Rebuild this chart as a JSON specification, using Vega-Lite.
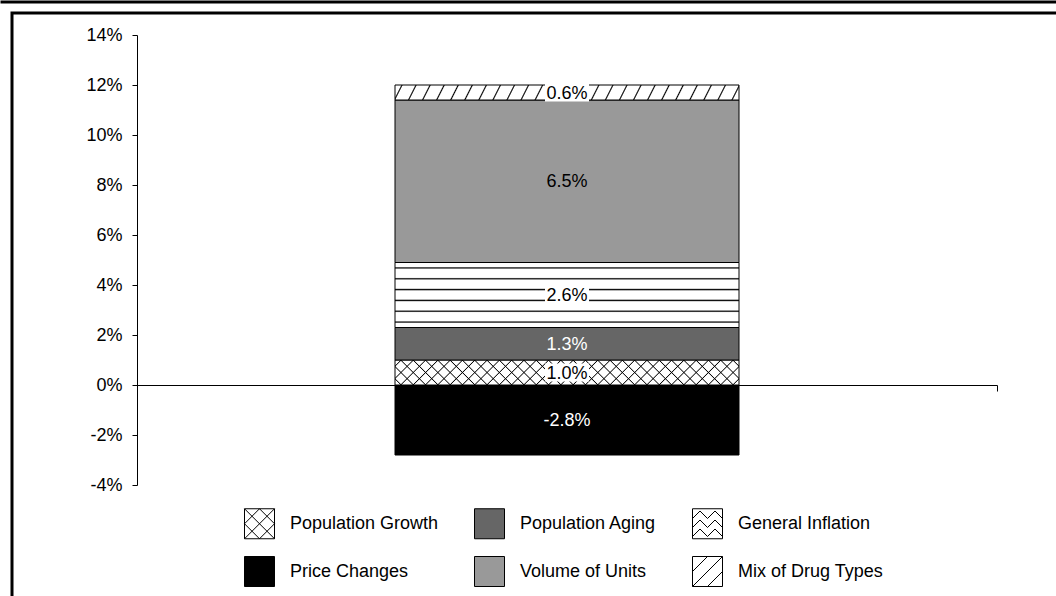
{
  "$schema": "https://vega.github.io/schema/vega-lite/v6.json",
  "width": 1044,
  "height": 583,
  "autosize": {"type": "none"},
  "padding": {"left": 12, "top": 13, "right": 0, "bottom": 0},
  "background": "white",
  "config": {
    "font": "Liberation Sans",
    "view": {"stroke": "black", "strokeWidth": 3, "strokeDash": [1044, 1627, 583]},
    "axis": {"grid": false, "domainColor": "black", "tickColor": "black", "labelColor": "black", "labelFont": "Liberation Sans", "labelFontSize": 18},
    "locale": {"number": {"decimal": ".", "thousands": ",", "grouping": [3], "currency": ["$", ""], "minus": "-"}}
  },
  "data": {"values": [
    {"g": "A", "cat": "Price Changes", "value": -0.028, "k": 0},
    {"g": "A", "cat": "Population Growth", "value": 0.010, "k": 1},
    {"g": "A", "cat": "Population Aging", "value": 0.013, "k": 2},
    {"g": "A", "cat": "General Inflation", "value": 0.026, "k": 3},
    {"g": "A", "cat": "Volume of Units", "value": 0.065, "k": 4},
    {"g": "A", "cat": "Mix of Drug Types", "value": 0.006, "k": 5}
  ]},
  "transform": [
    {"stack": "value", "groupby": [], "sort": [{"field": "k", "order": "ascending"}], "as": ["y0", "y1"], "offset": "zero"},
    {"calculate": "(datum.y0 + datum.y1) / 2", "as": "ym"}
  ],
  "layer": [
    {
      "layer": [
        {
          "mark": {"type": "bar", "width": {"band": 0.4}, "stroke": "black", "strokeWidth": 1},
          "encoding": {
            "x": {"field": "g", "type": "nominal", "scale": {"range": [125, 985], "paddingInner": 0, "paddingOuter": 0},
                  "axis": {"orient": "bottom", "offset": -211, "labels": false, "title": null, "tickBand": "extent", "tickSize": 6, "domainWidth": 1}},
            "y": {"field": "y0", "type": "quantitative", "scale": {"domain": [-0.04, 0.14], "range": [472, 22], "nice": false, "zero": false},
                  "axis": {"orient": "left", "offset": -125, "values": [-0.04, -0.02, 0, 0.02, 0.04, 0.06, 0.08, 0.1, 0.12, 0.14], "format": ".0%", "tickSize": 5, "labelPadding": 10, "title": null, "domainWidth": 1}},
            "y2": {"field": "y1"},
            "color": {"field": "cat", "type": "nominal",
              "scale": {"domain": ["Population Growth", "Population Aging", "General Inflation", "Price Changes", "Volume of Units", "Mix of Drug Types"],
                        "range": ["#ffffff", "#666666", "#ffffff", "#000000", "#999999", "#ffffff"]},
              "legend": {"orient": "none", "legendX": 232, "legendY": 495, "direction": "horizontal", "columns": 3, "title": null,
                "symbolSize": 900, "symbolType": "square", "symbolStrokeWidth": 1, "symbolStrokeColor": "black", "symbolOpacity": 1,
                "labelFontSize": 18, "labelFont": "Liberation Sans", "labelColor": "black", "labelOffset": 15, "labelLimit": 400,
                "columnPadding": 33, "rowPadding": 13, "padding": 0,
                "encode": {"symbols": {"update": {
                  "stroke": {"value": "black"}, "strokeWidth": {"value": 1}, "opacity": {"value": 1},
                  "shape": {"signal": "datum.value === 'Population Growth' ? 'M-1,-1H1V1H-1Z M-1,-1L1,1 M-1,0L0,1 M0,-1L1,0 M-1,1L1,-1 M-1,0L0,-1 M0,1L1,0' : datum.value === 'General Inflation' ? 'M-1,-1H1V1H-1Z M-1,-0.35L-0.5,-0.85L0,-0.35L0.5,-0.85L1,-0.35 M-1,0.25L-0.5,-0.25L0,0.25L0.5,-0.25L1,0.25 M-1,0.85L-0.5,0.35L0,0.85L0.5,0.35L1,0.85' : datum.value === 'Mix of Drug Types' ? 'M-1,-1H1V1H-1Z M-1,0L0,-1 M-1,1L1,-1 M0,1L1,0' : 'square'"}
                }}}
              }}
          }
        },
        {
          "transform": [{"filter": "datum.cat === 'Mix of Drug Types'"}],
          "mark": {"type": "bar", "width": {"band": 0.4}, "strokeWidth": 0,
            "fill": {"gradient": "linear", "x1": 0, "y1": 0, "x2": 1.0215, "y2": 0.0225, "stops": [
              {"offset": 0, "color": "#0000"},
              {"offset": 0.0165, "color": "#0000"}, {"offset": 0.02, "color": "#000"}, {"offset": 0.0235, "color": "#0000"},
              {"offset": 0.0565, "color": "#0000"}, {"offset": 0.06, "color": "#000"}, {"offset": 0.0635, "color": "#0000"},
              {"offset": 0.0965, "color": "#0000"}, {"offset": 0.10, "color": "#000"}, {"offset": 0.1035, "color": "#0000"},
              {"offset": 0.1365, "color": "#0000"}, {"offset": 0.14, "color": "#000"}, {"offset": 0.1435, "color": "#0000"},
              {"offset": 0.1765, "color": "#0000"}, {"offset": 0.18, "color": "#000"}, {"offset": 0.1835, "color": "#0000"},
              {"offset": 0.2165, "color": "#0000"}, {"offset": 0.22, "color": "#000"}, {"offset": 0.2235, "color": "#0000"},
              {"offset": 0.2565, "color": "#0000"}, {"offset": 0.26, "color": "#000"}, {"offset": 0.2635, "color": "#0000"},
              {"offset": 0.2965, "color": "#0000"}, {"offset": 0.30, "color": "#000"}, {"offset": 0.3035, "color": "#0000"},
              {"offset": 0.3365, "color": "#0000"}, {"offset": 0.34, "color": "#000"}, {"offset": 0.3435, "color": "#0000"},
              {"offset": 0.3765, "color": "#0000"}, {"offset": 0.38, "color": "#000"}, {"offset": 0.3835, "color": "#0000"},
              {"offset": 0.4165, "color": "#0000"}, {"offset": 0.42, "color": "#000"}, {"offset": 0.4235, "color": "#0000"},
              {"offset": 0.4565, "color": "#0000"}, {"offset": 0.46, "color": "#000"}, {"offset": 0.4635, "color": "#0000"},
              {"offset": 0.4965, "color": "#0000"}, {"offset": 0.50, "color": "#000"}, {"offset": 0.5035, "color": "#0000"},
              {"offset": 0.5365, "color": "#0000"}, {"offset": 0.54, "color": "#000"}, {"offset": 0.5435, "color": "#0000"},
              {"offset": 0.5765, "color": "#0000"}, {"offset": 0.58, "color": "#000"}, {"offset": 0.5835, "color": "#0000"},
              {"offset": 0.6165, "color": "#0000"}, {"offset": 0.62, "color": "#000"}, {"offset": 0.6235, "color": "#0000"},
              {"offset": 0.6565, "color": "#0000"}, {"offset": 0.66, "color": "#000"}, {"offset": 0.6635, "color": "#0000"},
              {"offset": 0.6965, "color": "#0000"}, {"offset": 0.70, "color": "#000"}, {"offset": 0.7035, "color": "#0000"},
              {"offset": 0.7365, "color": "#0000"}, {"offset": 0.74, "color": "#000"}, {"offset": 0.7435, "color": "#0000"},
              {"offset": 0.7765, "color": "#0000"}, {"offset": 0.78, "color": "#000"}, {"offset": 0.7835, "color": "#0000"},
              {"offset": 0.8165, "color": "#0000"}, {"offset": 0.82, "color": "#000"}, {"offset": 0.8235, "color": "#0000"},
              {"offset": 0.8565, "color": "#0000"}, {"offset": 0.86, "color": "#000"}, {"offset": 0.8635, "color": "#0000"},
              {"offset": 0.8965, "color": "#0000"}, {"offset": 0.90, "color": "#000"}, {"offset": 0.9035, "color": "#0000"},
              {"offset": 0.9365, "color": "#0000"}, {"offset": 0.94, "color": "#000"}, {"offset": 0.9435, "color": "#0000"},
              {"offset": 0.9765, "color": "#0000"}, {"offset": 0.98, "color": "#000"}, {"offset": 0.9835, "color": "#0000"},
              {"offset": 1, "color": "#0000"}
            ]}},
          "encoding": {"x": {"field": "g", "type": "nominal"}, "y": {"field": "y0", "type": "quantitative"}, "y2": {"field": "y1"}}
        },
        {
          "transform": [{"filter": "datum.cat === 'General Inflation'"}],
          "mark": {"type": "bar", "width": {"band": 0.4}, "strokeWidth": 0,
            "fill": {"gradient": "linear", "x1": 0, "y1": 0, "x2": 0, "y2": 1, "stops": [
              {"offset": 0, "color": "#0000"},
              {"offset": 0.0633, "color": "#0000"}, {"offset": 0.0833, "color": "#000"}, {"offset": 0.1033, "color": "#0000"},
              {"offset": 0.23, "color": "#0000"}, {"offset": 0.25, "color": "#000"}, {"offset": 0.27, "color": "#0000"},
              {"offset": 0.3967, "color": "#0000"}, {"offset": 0.4167, "color": "#000"}, {"offset": 0.4367, "color": "#0000"},
              {"offset": 0.5633, "color": "#0000"}, {"offset": 0.5833, "color": "#000"}, {"offset": 0.6033, "color": "#0000"},
              {"offset": 0.73, "color": "#0000"}, {"offset": 0.75, "color": "#000"}, {"offset": 0.77, "color": "#0000"},
              {"offset": 0.8967, "color": "#0000"}, {"offset": 0.9167, "color": "#000"}, {"offset": 0.9367, "color": "#0000"},
              {"offset": 1, "color": "#0000"}
            ]}},
          "encoding": {"x": {"field": "g", "type": "nominal"}, "y": {"field": "y0", "type": "quantitative"}, "y2": {"field": "y1"}}
        },
        {
          "transform": [{"filter": "datum.cat === 'Population Growth'"}],
          "mark": {"type": "bar", "width": {"band": 0.4}, "strokeWidth": 0,
            "fill": {"gradient": "linear", "x1": 0, "y1": 0, "x2": 1.0671, "y2": 0.0776, "stops": [
              {"offset": 0, "color": "#0000"},
              {"offset": 0.0137, "color": "#0000"}, {"offset": 0.0167, "color": "#000"}, {"offset": 0.0197, "color": "#0000"},
              {"offset": 0.047, "color": "#0000"}, {"offset": 0.05, "color": "#000"}, {"offset": 0.053, "color": "#0000"},
              {"offset": 0.0803, "color": "#0000"}, {"offset": 0.0833, "color": "#000"}, {"offset": 0.0863, "color": "#0000"},
              {"offset": 0.1137, "color": "#0000"}, {"offset": 0.1167, "color": "#000"}, {"offset": 0.1197, "color": "#0000"},
              {"offset": 0.147, "color": "#0000"}, {"offset": 0.15, "color": "#000"}, {"offset": 0.153, "color": "#0000"},
              {"offset": 0.1803, "color": "#0000"}, {"offset": 0.1833, "color": "#000"}, {"offset": 0.1863, "color": "#0000"},
              {"offset": 0.2137, "color": "#0000"}, {"offset": 0.2167, "color": "#000"}, {"offset": 0.2197, "color": "#0000"},
              {"offset": 0.247, "color": "#0000"}, {"offset": 0.25, "color": "#000"}, {"offset": 0.253, "color": "#0000"},
              {"offset": 0.2803, "color": "#0000"}, {"offset": 0.2833, "color": "#000"}, {"offset": 0.2863, "color": "#0000"},
              {"offset": 0.3137, "color": "#0000"}, {"offset": 0.3167, "color": "#000"}, {"offset": 0.3197, "color": "#0000"},
              {"offset": 0.347, "color": "#0000"}, {"offset": 0.35, "color": "#000"}, {"offset": 0.353, "color": "#0000"},
              {"offset": 0.3803, "color": "#0000"}, {"offset": 0.3833, "color": "#000"}, {"offset": 0.3863, "color": "#0000"},
              {"offset": 0.4137, "color": "#0000"}, {"offset": 0.4167, "color": "#000"}, {"offset": 0.4197, "color": "#0000"},
              {"offset": 0.447, "color": "#0000"}, {"offset": 0.45, "color": "#000"}, {"offset": 0.453, "color": "#0000"},
              {"offset": 0.4803, "color": "#0000"}, {"offset": 0.4833, "color": "#000"}, {"offset": 0.4863, "color": "#0000"},
              {"offset": 0.5137, "color": "#0000"}, {"offset": 0.5167, "color": "#000"}, {"offset": 0.5197, "color": "#0000"},
              {"offset": 0.547, "color": "#0000"}, {"offset": 0.55, "color": "#000"}, {"offset": 0.553, "color": "#0000"},
              {"offset": 0.5803, "color": "#0000"}, {"offset": 0.5833, "color": "#000"}, {"offset": 0.5863, "color": "#0000"},
              {"offset": 0.6137, "color": "#0000"}, {"offset": 0.6167, "color": "#000"}, {"offset": 0.6197, "color": "#0000"},
              {"offset": 0.647, "color": "#0000"}, {"offset": 0.65, "color": "#000"}, {"offset": 0.653, "color": "#0000"},
              {"offset": 0.6803, "color": "#0000"}, {"offset": 0.6833, "color": "#000"}, {"offset": 0.6863, "color": "#0000"},
              {"offset": 0.7137, "color": "#0000"}, {"offset": 0.7167, "color": "#000"}, {"offset": 0.7197, "color": "#0000"},
              {"offset": 0.747, "color": "#0000"}, {"offset": 0.75, "color": "#000"}, {"offset": 0.753, "color": "#0000"},
              {"offset": 0.7803, "color": "#0000"}, {"offset": 0.7833, "color": "#000"}, {"offset": 0.7863, "color": "#0000"},
              {"offset": 0.8137, "color": "#0000"}, {"offset": 0.8167, "color": "#000"}, {"offset": 0.8197, "color": "#0000"},
              {"offset": 0.847, "color": "#0000"}, {"offset": 0.85, "color": "#000"}, {"offset": 0.853, "color": "#0000"},
              {"offset": 0.8803, "color": "#0000"}, {"offset": 0.8833, "color": "#000"}, {"offset": 0.8863, "color": "#0000"},
              {"offset": 0.9137, "color": "#0000"}, {"offset": 0.9167, "color": "#000"}, {"offset": 0.9197, "color": "#0000"},
              {"offset": 0.947, "color": "#0000"}, {"offset": 0.95, "color": "#000"}, {"offset": 0.953, "color": "#0000"},
              {"offset": 0.9803, "color": "#0000"}, {"offset": 0.9833, "color": "#000"}, {"offset": 0.9863, "color": "#0000"},
              {"offset": 1, "color": "#0000"}
            ]}},
          "encoding": {"x": {"field": "g", "type": "nominal"}, "y": {"field": "y0", "type": "quantitative"}, "y2": {"field": "y1"}}
        },
        {
          "transform": [{"filter": "datum.cat === 'Population Growth'"}],
          "mark": {"type": "bar", "width": {"band": 0.4}, "strokeWidth": 0,
            "fill": {"gradient": "linear", "x1": 0, "y1": 1, "x2": 1.0671, "y2": 0.9224, "stops": [
              {"offset": 0, "color": "#0000"},
              {"offset": 0.0137, "color": "#0000"}, {"offset": 0.0167, "color": "#000"}, {"offset": 0.0197, "color": "#0000"},
              {"offset": 0.047, "color": "#0000"}, {"offset": 0.05, "color": "#000"}, {"offset": 0.053, "color": "#0000"},
              {"offset": 0.0803, "color": "#0000"}, {"offset": 0.0833, "color": "#000"}, {"offset": 0.0863, "color": "#0000"},
              {"offset": 0.1137, "color": "#0000"}, {"offset": 0.1167, "color": "#000"}, {"offset": 0.1197, "color": "#0000"},
              {"offset": 0.147, "color": "#0000"}, {"offset": 0.15, "color": "#000"}, {"offset": 0.153, "color": "#0000"},
              {"offset": 0.1803, "color": "#0000"}, {"offset": 0.1833, "color": "#000"}, {"offset": 0.1863, "color": "#0000"},
              {"offset": 0.2137, "color": "#0000"}, {"offset": 0.2167, "color": "#000"}, {"offset": 0.2197, "color": "#0000"},
              {"offset": 0.247, "color": "#0000"}, {"offset": 0.25, "color": "#000"}, {"offset": 0.253, "color": "#0000"},
              {"offset": 0.2803, "color": "#0000"}, {"offset": 0.2833, "color": "#000"}, {"offset": 0.2863, "color": "#0000"},
              {"offset": 0.3137, "color": "#0000"}, {"offset": 0.3167, "color": "#000"}, {"offset": 0.3197, "color": "#0000"},
              {"offset": 0.347, "color": "#0000"}, {"offset": 0.35, "color": "#000"}, {"offset": 0.353, "color": "#0000"},
              {"offset": 0.3803, "color": "#0000"}, {"offset": 0.3833, "color": "#000"}, {"offset": 0.3863, "color": "#0000"},
              {"offset": 0.4137, "color": "#0000"}, {"offset": 0.4167, "color": "#000"}, {"offset": 0.4197, "color": "#0000"},
              {"offset": 0.447, "color": "#0000"}, {"offset": 0.45, "color": "#000"}, {"offset": 0.453, "color": "#0000"},
              {"offset": 0.4803, "color": "#0000"}, {"offset": 0.4833, "color": "#000"}, {"offset": 0.4863, "color": "#0000"},
              {"offset": 0.5137, "color": "#0000"}, {"offset": 0.5167, "color": "#000"}, {"offset": 0.5197, "color": "#0000"},
              {"offset": 0.547, "color": "#0000"}, {"offset": 0.55, "color": "#000"}, {"offset": 0.553, "color": "#0000"},
              {"offset": 0.5803, "color": "#0000"}, {"offset": 0.5833, "color": "#000"}, {"offset": 0.5863, "color": "#0000"},
              {"offset": 0.6137, "color": "#0000"}, {"offset": 0.6167, "color": "#000"}, {"offset": 0.6197, "color": "#0000"},
              {"offset": 0.647, "color": "#0000"}, {"offset": 0.65, "color": "#000"}, {"offset": 0.653, "color": "#0000"},
              {"offset": 0.6803, "color": "#0000"}, {"offset": 0.6833, "color": "#000"}, {"offset": 0.6863, "color": "#0000"},
              {"offset": 0.7137, "color": "#0000"}, {"offset": 0.7167, "color": "#000"}, {"offset": 0.7197, "color": "#0000"},
              {"offset": 0.747, "color": "#0000"}, {"offset": 0.75, "color": "#000"}, {"offset": 0.753, "color": "#0000"},
              {"offset": 0.7803, "color": "#0000"}, {"offset": 0.7833, "color": "#000"}, {"offset": 0.7863, "color": "#0000"},
              {"offset": 0.8137, "color": "#0000"}, {"offset": 0.8167, "color": "#000"}, {"offset": 0.8197, "color": "#0000"},
              {"offset": 0.847, "color": "#0000"}, {"offset": 0.85, "color": "#000"}, {"offset": 0.853, "color": "#0000"},
              {"offset": 0.8803, "color": "#0000"}, {"offset": 0.8833, "color": "#000"}, {"offset": 0.8863, "color": "#0000"},
              {"offset": 0.9137, "color": "#0000"}, {"offset": 0.9167, "color": "#000"}, {"offset": 0.9197, "color": "#0000"},
              {"offset": 0.947, "color": "#0000"}, {"offset": 0.95, "color": "#000"}, {"offset": 0.953, "color": "#0000"},
              {"offset": 0.9803, "color": "#0000"}, {"offset": 0.9833, "color": "#000"}, {"offset": 0.9863, "color": "#0000"},
              {"offset": 1, "color": "#0000"}
            ]}},
          "encoding": {"x": {"field": "g", "type": "nominal"}, "y": {"field": "y0", "type": "quantitative"}, "y2": {"field": "y1"}}
        },
        {
          "transform": [{"filter": "datum.cat === 'Population Growth' || datum.cat === 'General Inflation' || datum.cat === 'Mix of Drug Types'"}],
          "mark": {"type": "point", "shape": "M-1,-0.41H1V0.41H-1Z", "size": 1936, "filled": true, "fill": "white", "opacity": 1, "strokeWidth": 0},
          "encoding": {"x": {"field": "g", "type": "nominal"}, "y": {"field": "ym", "type": "quantitative"}}
        },
        {
          "mark": {"type": "text", "fontSize": 18, "font": "Liberation Sans", "baseline": "middle", "align": "center", "dy": 1},
          "encoding": {
            "x": {"field": "g", "type": "nominal"},
            "y": {"field": "ym", "type": "quantitative"},
            "text": {"field": "value", "type": "quantitative", "format": ".1%"},
            "color": {"condition": {"test": "datum.cat === 'Population Aging' || datum.cat === 'Price Changes'", "value": "white"}, "value": "black"}
          }
        }
      ]
    },
    {
      "mark": {"type": "point", "opacity": 0},
      "encoding": {
        "x": {"datum": 0, "type": "quantitative", "scale": {"domain": [0, 1], "range": [-12, 1044]},
              "axis": {"orient": "top", "offset": 11.5, "domainWidth": 3, "domainColor": "black", "ticks": false, "labels": false, "title": null, "grid": false}}
      }
    }
  ],
  "resolve": {"scale": {"x": "independent"}, "axis": {"x": "independent"}}
}
